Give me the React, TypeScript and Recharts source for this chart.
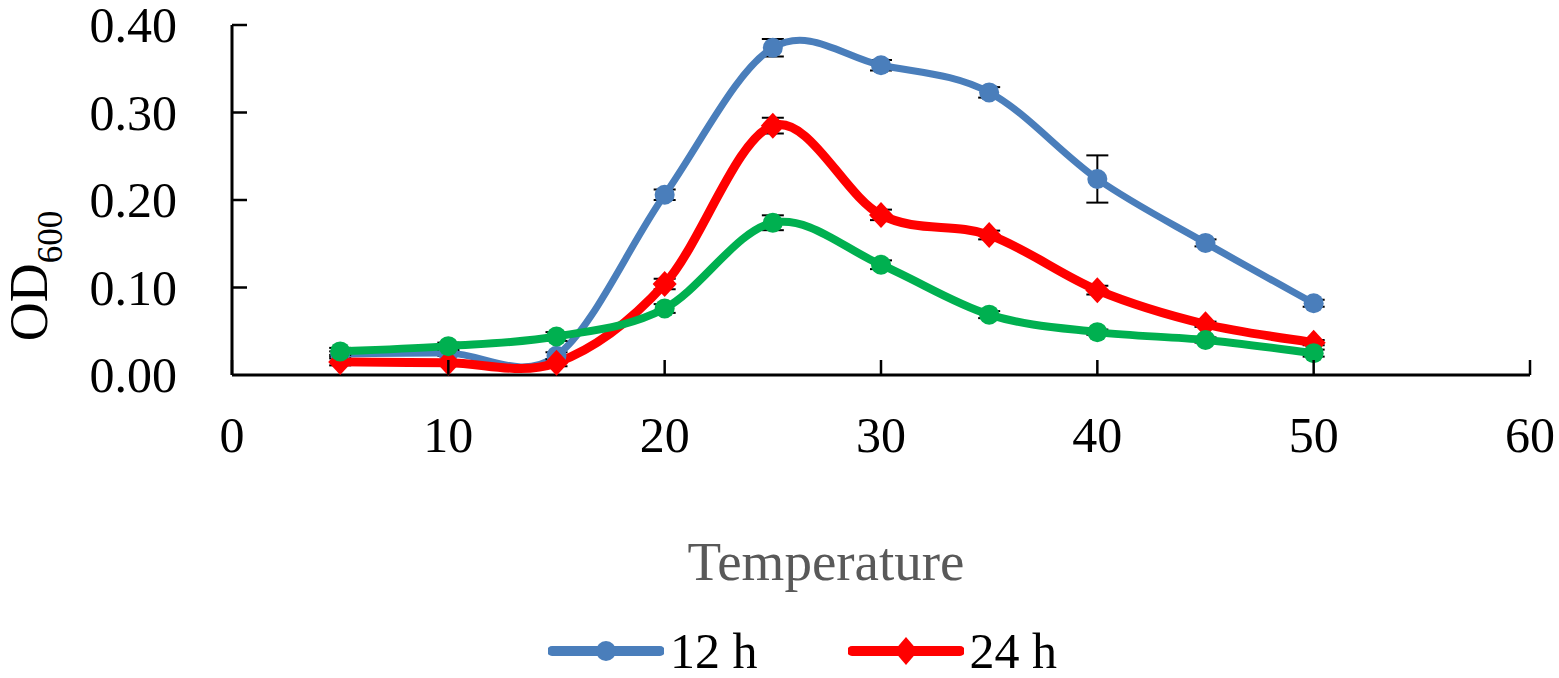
import React from 'react';
import { LineChart, Line, XAxis, YAxis, ErrorBar, Legend } from 'recharts';

const temperatures = [5, 10, 15, 20, 25, 30, 35, 40, 45, 50];
const od12h = [0.024, 0.025, 0.022, 0.206, 0.374, 0.354, 0.323, 0.224, 0.151, 0.082];
const err12h = [0.003, 0.003, 0.004, 0.006, 0.01, 0.006, 0.006, 0.027, 0.004, 0.004];
const od24h = [0.015, 0.014, 0.014, 0.104, 0.285, 0.183, 0.160, 0.097, 0.058, 0.037];
const err24h = [0.004, 0.003, 0.004, 0.006, 0.009, 0.006, 0.005, 0.005, 0.003, 0.003];
const od48h = [0.027, 0.033, 0.044, 0.076, 0.174, 0.126, 0.069, 0.049, 0.040, 0.025];
const err48h = [0.004, 0.004, 0.005, 0.005, 0.0085, 0.005, 0.004, 0.003, 0.003, 0.004];

const xTicks = [0, 10, 20, 30, 40, 50, 60];
const yTicks = [0, 0.1, 0.2, 0.3, 0.4];
const legendItems = [
  { label: '12 h', color: '#4A7EBB', shape: 'circle' },
  { label: '24 h', color: '#FF0000', shape: 'diamond' },
];

const data = temperatures.map((t, i) => ({
  t,
  h12: od12h[i],
  e12: err12h[i],
  h24: od24h[i],
  e24: err24h[i],
  h48: od48h[i],
  e48: err48h[i],
}));

const SERIF = '"Liberation Serif", "Times New Roman", serif';

// Excel-like smoothed line (Catmull-Rom style Bezier)
function excelSmooth(context: any) {
  let pts: [number, number][] = [];
  return {
    areaStart() {},
    areaEnd() {},
    lineStart() {
      pts = [];
    },
    point(x: number, y: number) {
      pts.push([+x, +y]);
    },
    lineEnd() {
      const n = pts.length;
      if (!n) return;
      context.moveTo(pts[0][0], pts[0][1]);
      for (let i = 0; i < n - 1; i++) {
        const p0 = pts[i - 1] || pts[i];
        const p1 = pts[i];
        const p2 = pts[i + 1];
        const p3 = pts[i + 2] || p2;
        context.bezierCurveTo(
          p1[0] + (p2[0] - p0[0]) / 6,
          p1[1] + (p2[1] - p0[1]) / 6,
          p2[0] - (p3[0] - p1[0]) / 6,
          p2[1] - (p3[1] - p1[1]) / 6,
          p2[0],
          p2[1]
        );
      }
    },
  };
}

const XTick = (props: any) => {
  const { x, y, payload } = props;
  return (
    <g>
      <line x1={x} y1={y} x2={x} y2={y - 15} stroke="#000" strokeWidth={2.5} />
      <text x={x} y={y + 77} textAnchor="middle" fontFamily={SERIF} fontSize={50} fill="#000">
        {payload.value}
      </text>
    </g>
  );
};

const YTick = (props: any) => {
  const { x, y, payload } = props;
  return (
    <g>
      {payload.value !== 0 && <line x1={x} y1={y} x2={x + 15} y2={y} stroke="#000" strokeWidth={2.5} />}
      <text x={x - 55} y={y + 17} textAnchor="end" fontFamily={SERIF} fontSize={50} fill="#000">
        {Number(payload.value).toFixed(2)}
      </text>
    </g>
  );
};

const circleDot = (color: string, r: number) => (props: any) => {
  const { cx, cy, index } = props;
  if (cx == null || cy == null) return <g key={index} />;
  return <circle key={index} cx={cx} cy={cy} r={r} fill={color} />;
};

const diamondDot = (color: string) => (props: any) => {
  const { cx, cy, index } = props;
  if (cx == null || cy == null) return <g key={index} />;
  const w = 12;
  const h = 13;
  return (
    <polygon
      key={index}
      points={`${cx},${cy - h} ${cx + w},${cy} ${cx},${cy + h} ${cx - w},${cy}`}
      fill={color}
    />
  );
};

const LegendContent = () => (
  <div style={{ display: 'flex', alignItems: 'center', height: 50 }}>
    {legendItems.map((item, i) => (
      <div key={item.label} style={{ display: 'flex', alignItems: 'center', marginRight: i === 0 ? 90 : 0 }}>
        <svg width={116} height={30} style={{ display: 'block' }}>
          <line x1={4} y1={15} x2={112} y2={15} stroke={item.color} strokeWidth={10} strokeLinecap="round" />
          {item.shape === 'circle' ? (
            <circle cx={58} cy={15} r={10} fill={item.color} />
          ) : (
            <polygon points="58,1 70,15 58,29 46,15" fill={item.color} />
          )}
        </svg>
        <span style={{ fontFamily: SERIF, fontSize: 50, lineHeight: '50px', color: '#000', marginLeft: 6 }}>
          {item.label}
        </span>
      </div>
    ))}
  </div>
);

export default function App() {
  return (
    <div style={{ position: 'absolute', left: 0, top: 0, width: 1559, height: 678, background: '#fff' }}>
      <LineChart
        width={1559}
        height={678}
        data={data}
        margin={{ top: 25, right: 29, left: 0, bottom: 0 }}
      >
        <XAxis
          dataKey="t"
          type="number"
          domain={[0, 60]}
          ticks={xTicks}
          interval={0}
          height={303}
          tickSize={0}
          tickMargin={0}
          tickLine={false}
          axisLine={{ stroke: '#000', strokeWidth: 3 }}
          tick={<XTick />}
          label={{
            content: (p: any) => {
              const vb = p.viewBox || { x: 232, y: 375 };
              return (
                <text
                  x={vb.x + 594}
                  y={vb.y + 205}
                  textAnchor="middle"
                  fontFamily={SERIF}
                  fontSize={55}
                  fill="#595959"
                >
                  Temperature
                </text>
              );
            },
          }}
        />
        <YAxis
          type="number"
          domain={[0, 0.4]}
          ticks={yTicks}
          interval={0}
          width={232}
          tickSize={0}
          tickMargin={0}
          tickLine={false}
          axisLine={{ stroke: '#000', strokeWidth: 3 }}
          tick={<YTick />}
          label={{
            content: (p: any) => {
              const vb = p.viewBox || { x: 0, y: 25, height: 350 };
              const cx = vb.x + 47;
              const cy = vb.y + 251;
              return (
                <text
                  x={cx}
                  y={cy}
                  textAnchor="middle"
                  fontFamily={SERIF}
                  fill="#000"
                  transform={`rotate(-90, ${cx}, ${cy})`}
                >
                  <tspan fontSize={54}>OD</tspan>
                  <tspan fontSize={35} dy={15}>600</tspan>
                </text>
              );
            },
          }}
        />
        <Legend
          content={<LegendContent />}
          layout="horizontal"
          verticalAlign="middle"
          align="center"
          wrapperStyle={{ top: 626, left: 548, width: 600, height: 50 }}
        />
        <Line
          dataKey="h12"
          name="12 h"
          type={excelSmooth as any}
          stroke="#4A7EBB"
          strokeWidth={7}
          dot={circleDot('#4A7EBB', 10)}
          activeDot={false}
          isAnimationActive={false}
        >
          <ErrorBar dataKey="e12" direction="y" width={11} stroke="#000" strokeWidth={2} />
        </Line>
        <Line
          dataKey="h24"
          name="24 h"
          type={excelSmooth as any}
          stroke="#FF0000"
          strokeWidth={9}
          dot={diamondDot('#FF0000')}
          activeDot={false}
          isAnimationActive={false}
        >
          <ErrorBar dataKey="e24" direction="y" width={11} stroke="#000" strokeWidth={2} />
        </Line>
        <Line
          dataKey="h48"
          name="48 h"
          type={excelSmooth as any}
          stroke="#00B050"
          strokeWidth={8}
          dot={circleDot('#00B050', 10)}
          activeDot={false}
          isAnimationActive={false}
        >
          <ErrorBar dataKey="e48" direction="y" width={11} stroke="#000" strokeWidth={2} />
        </Line>
      </LineChart>
    </div>
  );
}
